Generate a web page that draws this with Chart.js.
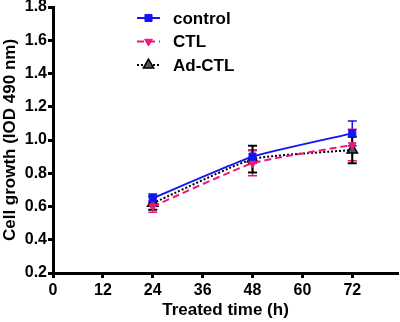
<!DOCTYPE html>
<html>
<head>
<meta charset="utf-8">
<script src="https://cdn.jsdelivr.net/npm/chart.js@4/dist/chart.umd.min.js"></script>
<style>
html,body{margin:0;padding:0;background:#fff;}
#wrap{width:400px;height:322px;position:relative;}
</style>
</head>
<body>
<div id="wrap"><canvas id="c" width="400" height="322"></canvas></div>
<script>
// ---- data ----
const timePoints = [24, 48, 72];
const seriesNames = ['control', 'CTL', 'Ad-CTL'];
const controlVals = [0.65, 0.90, 1.04];
const controlErr  = [0.025, 0.04, 0.075];
const ctlVals     = [0.60, 0.86, 0.97];
const ctlErr      = [0.035, 0.075, 0.095];
const adVals      = [0.62, 0.885, 0.94];
const adErr       = [0.04, 0.08, 0.08];
const xTicks = [0, 12, 24, 36, 48, 60, 72];
const yTicks = [0.2, 0.4, 0.6, 0.8, 1.0, 1.2, 1.4, 1.6, 1.8];
const xTitle = 'Treated time (h)';
const yTitle = 'Cell growth (IOD 490 nm)';

const FONT = '"Liberation Sans", Arial, sans-serif';
const BLUE = '#1414f5';
const PINK = '#f0157d';
const BLACK = '#000000';

const toPts = vals => timePoints.map((t, i) => ({x: t, y: vals[i]}));

const datasets = [
  {label: seriesNames[0], data: toPts(controlVals), errors: controlErr,
   borderColor: BLUE, backgroundColor: BLUE, borderWidth: 2, borderDash: [],
   pointStyle: 'rect', pointRadius: 5, pointRotation: 0, pointBackgroundColor: BLUE, pointBorderColor: BLUE, pointBorderWidth: 1,
   errColor: BLUE, errWidth: 1.5},
  {label: seriesNames[1], data: toPts(ctlVals), errors: ctlErr,
   borderColor: PINK, backgroundColor: PINK, borderWidth: 2, borderDash: [7, 4],
   pointStyle: 'triangle', pointRadius: 4.5, pointRotation: 180, pointBackgroundColor: PINK, pointBorderColor: PINK, pointBorderWidth: 1,
   errColor: PINK, errWidth: 1.5},
  {label: seriesNames[2], data: toPts(adVals), errors: adErr,
   borderColor: BLACK, backgroundColor: '#555555', borderWidth: 2, borderDash: [2, 2],
   pointStyle: 'triangle', pointRadius: 6, pointRotation: 0, pointBackgroundColor: '#555555', pointBorderColor: BLACK, pointBorderWidth: 1.5,
   errColor: BLACK, errWidth: 2}
].map(d => Object.assign({showLine: true, tension: 0.15, fill: false}, d));

const errorBars = {
  id: 'errorBars',
  beforeDatasetsDraw(chart) {
    const ctx = chart.ctx, ys = chart.scales.y;
    chart.data.datasets.forEach((ds, di) => {
      const meta = chart.getDatasetMeta(di);
      ctx.save();
      ctx.strokeStyle = ds.errColor;
      ctx.lineWidth = ds.errWidth;
      ctx.setLineDash([]);
      meta.data.forEach((pt, j) => {
        const v = ds.data[j].y, e = ds.errors[j];
        const yt = ys.getPixelForValue(v + e), yb = ys.getPixelForValue(v - e);
        const cap = 4.5;
        ctx.beginPath();
        ctx.moveTo(pt.x, yt); ctx.lineTo(pt.x, yb);
        ctx.moveTo(pt.x - cap, yt); ctx.lineTo(pt.x + cap, yt);
        ctx.moveTo(pt.x - cap, yb); ctx.lineTo(pt.x + cap, yb);
        ctx.stroke();
      });
      ctx.restore();
    });
  }
};

const customLegend = {
  id: 'customLegend',
  afterDraw(chart) {
    const ctx = chart.ctx;
    const x0 = 137, x1 = 160, tx = 173, rows = [18, 41.5, 65];
    chart.data.datasets.forEach((ds, i) => {
      const y = rows[i];
      ctx.save();
      ctx.strokeStyle = ds.borderColor;
      ctx.lineWidth = ds.borderWidth;
      ctx.setLineDash(ds.borderDash);
      ctx.beginPath(); ctx.moveTo(x0, y); ctx.lineTo(x1, y); ctx.stroke();
      ctx.setLineDash([]);
      ctx.fillStyle = ds.pointBackgroundColor;
      ctx.strokeStyle = ds.pointBorderColor;
      ctx.lineWidth = ds.pointBorderWidth;
      Chart.helpers.drawPoint(ctx, {pointStyle: ds.pointStyle, radius: ds.pointRadius, rotation: ds.pointRotation, borderWidth: ds.pointBorderWidth}, (x0 + x1) / 2, y);
      ctx.fillStyle = '#000';
      ctx.font = 'bold 17px ' + FONT;
      ctx.textBaseline = 'middle';
      ctx.textAlign = 'left';
      ctx.fillText(ds.label, tx, y + 1);
      ctx.restore();
    });
  }
};

new Chart(document.getElementById('c'), {
  type: 'scatter',
  data: {datasets},
  plugins: [errorBars, customLegend],
  options: {
    responsive: false,
    animation: false,
    layout: {autoPadding: false, padding: {left: 0, right: 2, top: 7, bottom: 0}},
    plugins: {legend: {display: false}, tooltip: {enabled: false}},
    scales: {
      x: {
        type: 'linear', min: 0, max: 83,
        afterBuildTicks: s => { s.ticks = xTicks.map(v => ({value: v})); },
        afterFit: s => { s.height = 49; s.paddingLeft = 0; s.paddingRight = 0; },
        border: {color: '#000', width: 3},
        grid: {drawOnChartArea: false, drawTicks: true, tickLength: 5, tickWidth: 3, tickColor: '#000'},
        ticks: {color: '#000', padding: 3, font: {family: FONT, size: 16, weight: 'bold'}, maxRotation: 0, autoSkip: false},
        title: {display: true, text: xTitle, color: '#000', font: {family: FONT, size: 17, weight: 'bold'}, padding: {top: 0, bottom: 1}}
      },
      y: {
        type: 'linear', min: 0.2, max: 1.8,
        afterBuildTicks: s => { s.ticks = yTicks.map(v => ({value: v})); },
        afterFit: s => { s.width = 53; s.paddingTop = 0; s.paddingBottom = 0; },
        border: {color: '#000', width: 3},
        grid: {drawOnChartArea: false, drawTicks: true, tickLength: 5, tickWidth: 3, tickColor: '#000'},
        ticks: {color: '#000', padding: 1, font: {family: FONT, size: 16, weight: 'bold'}, callback: v => Number(v).toFixed(1), autoSkip: false},
        title: {display: true, text: yTitle, color: '#000', font: {family: FONT, size: 17, weight: 'bold'}, padding: {top: 0, bottom: 0}}
      }
    }
  }
});
</script>
</body>
</html>
